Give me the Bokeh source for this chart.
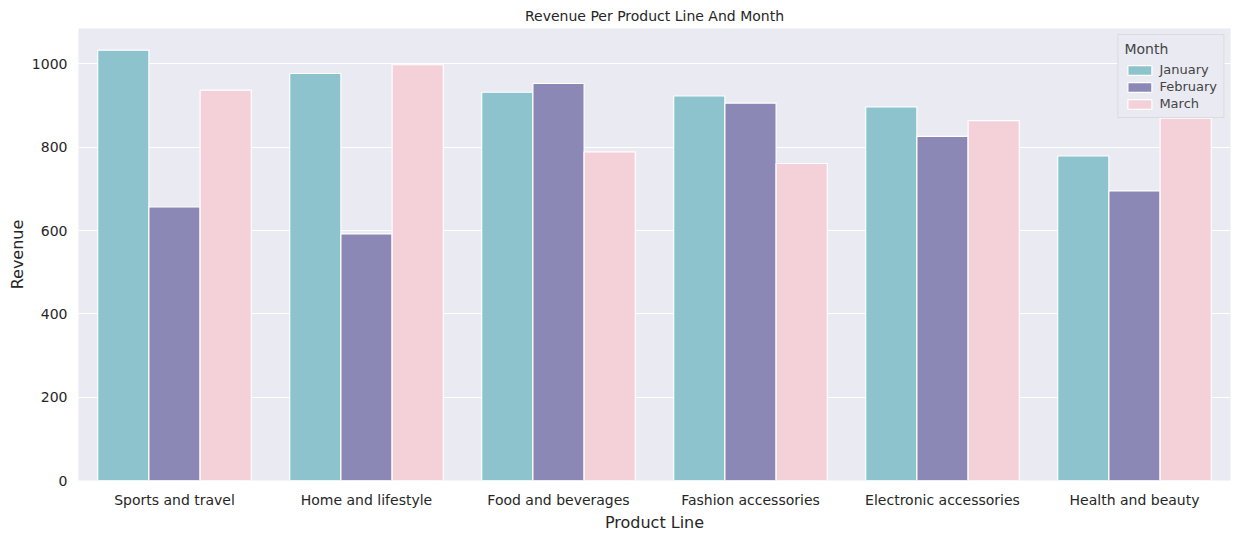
from bokeh.plotting import figure
from bokeh.models import ColumnDataSource, FixedTicker, Range1d, Legend, LegendItem
from bokeh.embed import file_html
from bokeh.resources import INLINE

categories = ["Sports and travel", "Home and lifestyle", "Food and beverages",
              "Fashion accessories", "Electronic accessories", "Health and beauty"]
months = ["January", "February", "March"]
jan = [1033, 977, 932, 923, 897, 779]
feb = [657, 592, 953, 906, 826, 695]
mar = [937, 998, 789, 761, 864, 870]
series = [jan, feb, mar]
colors = ["#8cc3cc", "#8c88b5", "#f4d0d8"]

p = figure(width=1234, height=534, output_backend="svg", toolbar_location=None,
           x_range=Range1d(-0.5, 5.5), y_range=Range1d(0, 1085),
           title="Revenue Per Product Line And Month",
           background_fill_color="#eaeaf2", border_fill_color="white",
           min_border_left=78, min_border_right=4, min_border_top=28, min_border_bottom=50)
p.outline_line_color = None
p.title.align = "center"
p.title.text_font = "DejaVu Sans"
p.title.text_font_size = "14px"
p.title.text_font_style = "normal"
p.title.text_color = "#262626"

w = 0.8 / 3
items = []
for i, (vals, c, m) in enumerate(zip(series, colors, months)):
    xs = [k - 0.4 + w * (i + 0.5) for k in range(len(categories))]
    src = ColumnDataSource(dict(x=xs, top=vals))
    r = p.vbar(x="x", top="top", width=w, bottom=0, source=src, fill_color=c,
               line_color="white", line_width=1.2)
    items.append(LegendItem(label=m, renderers=[r]))

legend = Legend(items=items, title="Month", location="top_right")
legend.title_text_font = "DejaVu Sans"
legend.title_text_font_size = "14px"
legend.title_text_font_style = "normal"
legend.label_text_font = "DejaVu Sans"
legend.label_text_font_size = "13px"
legend.background_fill_color = "#eaeaf2"
legend.border_line_color = "#cccccc"
legend.glyph_height = 12
legend.glyph_width = 30
legend.spacing = 2
legend.padding = 6
legend.margin = 6
p.add_layout(legend)

p.xaxis.ticker = FixedTicker(ticks=list(range(len(categories))))
p.xaxis.major_label_overrides = {i: c for i, c in enumerate(categories)}
p.yaxis.ticker = FixedTicker(ticks=[0, 200, 400, 600, 800, 1000])
p.xaxis.axis_label = "Product Line"
p.yaxis.axis_label = "Revenue"
for ax in (p.xaxis, p.yaxis):
    ax.axis_line_color = None
    ax.major_tick_line_color = None
    ax.minor_tick_line_color = None
    ax.major_label_text_font = "DejaVu Sans"
    ax.major_label_text_font_size = "14px"
    ax.major_label_text_color = "#262626"
    ax.axis_label_text_font = "DejaVu Sans"
    ax.axis_label_text_font_size = "16px"
    ax.axis_label_text_font_style = "normal"
    ax.axis_label_text_color = "#262626"
    ax.axis_label_standoff = 2
p.xgrid.grid_line_color = None
p.ygrid.grid_line_color = "white"
p.ygrid.level = "underlay"

open("out.html", "w").write(file_html(p, INLINE))
